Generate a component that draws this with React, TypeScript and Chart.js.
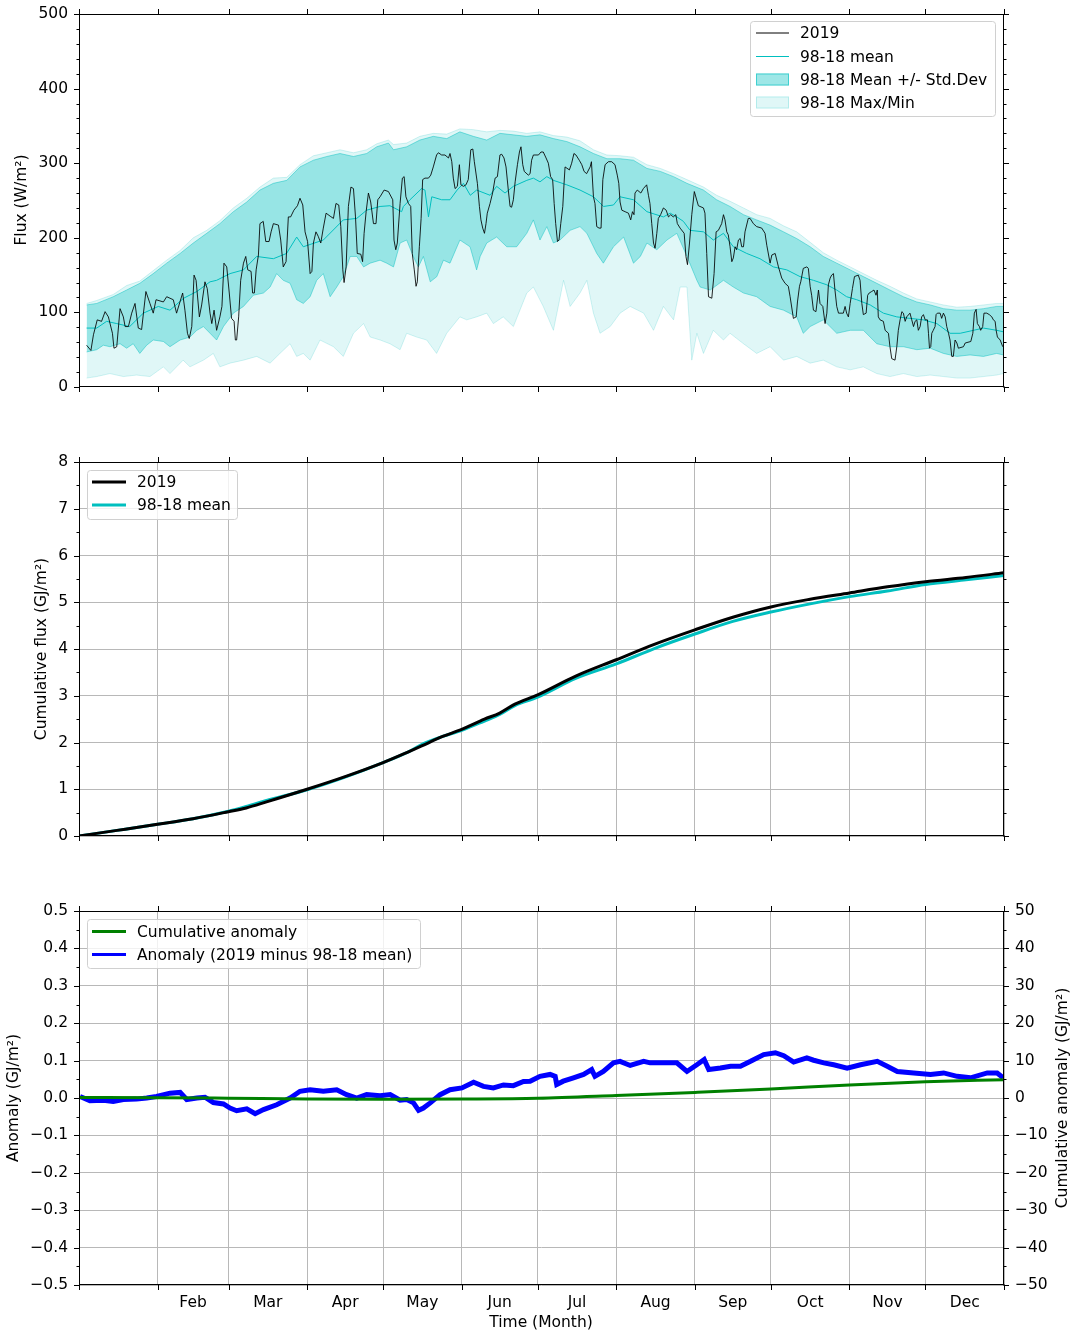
import React, { useEffect, useRef } from 'react';
import { Chart, registerables } from 'chart.js';

Chart.register(...registerables);
Chart.defaults.font.family = '"DejaVu Sans", sans-serif';
Chart.defaults.font.size = 15.5;
Chart.defaults.color = '#000';

const FONT = '15.5px "DejaVu Sans", sans-serif';
const CYAN = '#00BFBF';
const GRID = '#b8b8b8';

// ---------- axes ----------
const monthStarts = [0, 31, 59, 90, 120, 151, 181, 212, 243, 273, 304, 334, 365];
const monthMids = [45, 74.5, 105, 135.5, 166, 196.5, 227.5, 258, 288.5, 319, 349.5];
const monthNames = ['Feb', 'Mar', 'Apr', 'May', 'Jun', 'Jul', 'Aug', 'Sep', 'Oct', 'Nov', 'Dec'];
const fluxTicks = [0, 100, 200, 300, 400, 500];
const cumTicks = [0, 1, 2, 3, 4, 5, 6, 7, 8];
const anomTicks = [-0.5, -0.4, -0.3, -0.2, -0.1, 0, 0.1, 0.2, 0.3, 0.4, 0.5];
const cumAnomTicks = [-50, -40, -30, -20, -10, 0, 10, 20, 30, 40, 50];

// ---------- panel 1: daily flux (W/m2) ----------
const days2019 = [
  3.0,4.7,5.7,7.2,8.9,10.3,11.6,13.2,13.8,14.9,16.2,17.5,18.2,19.5,20.8,22.1,23.4,24.7,26.4,28.0,
  29.3,30.4,33.3,34.6,37.2,38.5,40.9,41.8,42.8,43.5,44.5,45.4,46.2,47.5,48.4,49.7,50.6,51.7,52.4,53.3,
  54.3,55.6,56.4,57.2,58.3,59.3,60.2,61.2,61.7,62.2,63.0,63.8,64.9,65.8,66.6,67.9,68.5,69.2,69.9,70.8,
  71.4,72.7,73.7,75.0,75.8,76.7,78.7,79.6,80.6,81.7,82.6,83.5,84.8,86.2,87.2,88.3,89.2,90.2,91.2,91.9,
  92.5,93.5,94.4,95.4,96.4,97.5,99.1,100.4,101.4,102.5,103.3,104.1,104.6,105.4,106.3,107.3,108.3,109.1,109.8,111.2,
  111.9,112.5,113.3,114.2,115.1,116.2,117.2,117.9,118.8,120.4,122.1,
  123.8,124.3,125.0,125.6,126.7,127.6,128.3,129.0,130.0,130.9,131.5,132.3,133.0,133.5,134.3,135.0,135.6,136.5,137.9,138.8,
  139.8,141.1,141.8,143.1,144.4,145.8,146.4,147.1,147.7,148.4,149.3,150.1,150.7,151.7,152.7,153.6,154.6,155.4,156.0,157.2,
  158.0,158.6,159.3,160.0,160.6,161.1,162.2,163.2,164.2,165.1,166.1,166.8,167.7,168.5,169.4,170.1,170.7,171.4,172.1,173.0,
  173.8,174.4,175.1,175.7,177.3,178.0,178.6,179.3,181.3,182.3,183.2,184.3,185.2,186.1,186.9,187.5,188.1,188.8,189.4,190.1,
  190.9,191.4,191.8,193.5,194.4,195.3,196.1,197.4,198.4,199.3,200.3,201.7,202.2,203.0,203.6,204.3,205.2,206.0,206.7,207.6,
  208.9,210.2,211.5,212.4,213.0,213.5,214.2,215.5,216.8,217.7,218.4,219.0,219.4,220.3,221.7,222.7,224.0,224.7,225.3,226.0,
  226.7,227.3,228.0,228.6,229.5,230.6,231.7,232.6,233.5,234.5,235.5,236.1,237.2,238.8,239.5,240.1,240.9,241.8,242.8,
  244.4,246.4,247.0,247.7,248.4,249.7,250.6,251.4,252.3,253.6,254.3,254.9,255.6,256.2,256.9,257.6,258.2,258.9,259.5,260.2,
  260.9,261.5,262.2,262.8,264.1,264.8,266.1,267.4,269.4,270.7,271.4,272.7,273.4,274.7,276.0,277.3,278.6,279.9,280.6,281.9,
  283.0,283.5,284.3,284.8,285.8,287.2,287.8,288.5,289.1,289.8,290.8,291.8,292.4,293.5,294.4,295.1,295.7,296.4,297.0,297.7,
  298.3,299.0,299.7,301.6,302.3,302.9,303.6,304.3,305.2,306.0,307.5,308.2,308.9,309.5,310.6,311.2,311.8,312.8,313.7,314.5,
  315.0,315.4,316.1,317.4,318.1,319.4,320.0,320.7,322.0,322.7,323.3,324.0,324.7,325.3,326.0,326.6,327.9,328.6,329.3,329.9,
  330.6,331.2,331.9,332.5,333.2,333.9,334.8,335.2,335.6,336.1,336.5,337.1,337.8,338.2,338.7,339.8,340.4,341.1,341.8,342.4,
  343.1,343.7,344.4,345.0,345.7,346.4,347.0,349.0,349.7,351.9,352.7,353.3,354.0,354.5,355.3,355.8,356.6,357.1,358.2,359.2,
  360.2,360.8,361.5,361.9,362.4,363.5,364.5,
];
const flux2019 = [
  56,49,70,90,88,101,94,72,52,54,105,94,81,81,99,112,79,77,128,112,
  99,117,114,121,117,99,126,103,72,65,81,150,143,94,110,141,132,99,85,103,
  76,94,108,166,161,126,92,88,63,63,94,143,166,175,157,155,126,126,157,177,
  219,222,195,195,208,219,217,197,161,168,228,228,237,243,253,244,208,195,152,155,
  193,208,202,193,213,233,229,226,246,244,215,157,140,161,242,268,266,228,179,178,
  168,206,235,260,248,219,219,251,255,264,262,
  251,197,184,193,246,280,282,255,246,242,179,157,135,141,188,226,278,280,280,284,
  295,311,314,311,311,307,313,302,280,266,269,298,271,269,271,278,318,319,302,273,
  242,224,213,206,219,233,246,260,280,282,311,312,307,295,264,242,241,251,275,298,
  315,322,298,289,284,286,304,311,311,315,315,307,300,282,278,246,219,195,197,219,
  242,273,295,291,300,313,311,304,298,289,286,295,302,255,246,215,213,213,278,298,
  302,302,298,284,273,248,237,235,233,224,235,231,260,264,260,266,271,257,246,219,
  193,186,206,226,231,240,237,228,231,228,231,219,213,206,175,164,193,231,262,
  243,240,233,179,121,119,152,208,210,219,231,224,208,204,188,168,173,188,184,197,
  199,188,188,208,226,226,219,215,213,206,190,166,177,179,161,146,139,135,121,92,
  94,114,135,141,159,161,159,135,123,103,101,130,112,108,85,99,137,146,150,152,
  130,108,99,99,108,99,94,112,132,148,150,143,112,97,99,123,126,128,130,123,
  130,94,90,88,76,72,54,38,36,54,76,90,101,99,88,94,99,90,81,88,
  90,76,81,94,97,90,90,72,52,54,72,76,81,97,99,99,92,99,94,81,
  72,63,41,41,63,59,52,54,59,61,72,99,104,85,81,76,81,99,99,97,
  94,90,88,76,67,63,54,
];

const meanDays = [3,7,10.9,14.9,20,25.4,31.3,35.9,41.3,46.5,51.7,54.3,59.6,64.9,70.1,76.7,81.9,85.9,88.5,96.4,
  104.3,109.6,113.5,118.8,122.7,127.3,128.0,130.6,135.2,136.5,137.9,139.2,143.1,146.4,149.2,151.7,154.4,156.9,162.2,164.8,
  168.1,171.4,176.7,179.3,181.9,184.6,187.2,192.5,197.7,203.0,207.0,210.9,213.5,218.8,224.1,230.6,233.3,235.9,238.5,241.1,
  246.4,250.3,254.3,258.2,263.5,268.7,274.0,279.3,284.5,289.8,295.1,299.0,302.9,306.9,312.2,317.4,322.7,327.9,333.2,338.5,
  343.7,347.7,353.0,356.9,362.1,364.7];
const meanFlux = [79,79,88,85,81,99,108,103,119,128,141,143,152,157,175,172,179,201,188,197,
  224,226,237,242,243,235,242,251,266,264,228,255,251,251,264,273,257,264,257,269,
  260,269,277,280,275,282,277,271,264,255,242,244,255,251,235,228,233,228,222,210,
  208,197,206,188,179,172,161,157,148,143,137,130,121,117,110,99,94,92,90,85,
  72,72,76,79,76,74];

const stdUpDays = [3,7,13.5,18.8,24,29.3,34.6,39.9,45.1,50.4,55.6,60.9,66.2,71.4,76.7,82,87.2,92.5,97.8,103,108.3,113.5,117.5,122.1,
  124.1,129.3,134.5,139.8,145.1,150.3,155.6,160.9,166.1,171.4,176.7,181.9,187.2,192.5,197.7,203,208.3,213.5,218.8,224.1,229.4,234.6,239.9,
  246.4,251.6,256.9,262.2,267.4,272.7,278,283.2,288.5,293.7,299,304.3,309.5,314.8,320,325.3,330.6,335.9,341.1,346.4,351.6,356.9,362.1,364.7];
const stdUpFlux = [110,112,121,130,139,152,166,179,193,206,219,235,248,264,273,277,295,304,309,313,309,313,322,327,
  318,322,331,336,333,342,336,331,340,338,336,338,333,329,322,313,306,306,304,293,289,282,273,
  264,251,242,231,224,217,208,199,188,175,166,157,148,139,130,121,114,110,105,103,103,105,108,108];
const maxFlux = [112,116,124,136,142,156,170,183,200,210,223,240,253,268,280,281,298,310,314,318,314,318,326,331,
  325,327,336,340,339,346,345,342,344,343,340,342,337,335,330,318,311,310,308,298,293,286,278,
  268,257,249,240,231,226,216,208,194,180,170,161,152,143,135,126,118,114,110,107,108,110,112,112];

const stdLowDays = [3,7,9.6,12.2,16.2,18.8,21.4,24,26.7,29.3,33.3,35.9,39.9,43.8,46.5,49.1,51.7,54.3,57,60.9,
  64.9,68.8,72.8,75.4,78,80.6,83.3,85.9,88.5,91.2,93.8,96.4,99.1,101.7,104.3,107,109.6,112.3,114.9,118.8,
  121.4,124.1,126.7,129.3,131.9,133.9,135.9,138.6,141.2,143.8,146.4,150.3,154.3,156.9,158.3,160.9,164.8,168.8,172.7,176.7,
  179.3,181.9,184.6,187.2,189.8,193.8,197.7,200.4,204.3,206.9,210.9,214.9,218.8,221.5,224.1,228,232,235.9,239.9,243.8,
  245.1,249.1,254.3,258.2,262.2,267.4,272.7,278,283.2,285.8,288.5,293.7,299,304.3,309.5,314.8,320,325.3,330.6,335.9,
  341.1,346.4,351.6,356.9,362.1,364.7];
const stdLowFlux = [47,50,56,54,58,52,58,45,56,63,61,54,63,67,76,81,72,63,81,99,
  108,123,126,134,152,143,139,117,112,121,143,152,121,134,148,175,175,161,166,170,
  166,161,193,197,175,161,175,141,148,170,166,197,188,157,175,193,201,188,188,206,
  224,197,215,193,197,210,215,206,179,166,188,201,166,175,193,184,197,206,175,143,
  134,130,143,134,126,121,108,103,94,72,81,90,72,76,76,58,54,54,50,52,
  45,41,43,41,45,43];

const minDays = [3,7,12.2,17.5,22.7,28,33.3,35.9,41.1,43.8,49.1,53,55.6,59.6,64.9,70.1,75.4,79.3,83.3,85.9,
  88.5,91.2,95.1,100.4,104.3,108.3,112.3,114.9,118.8,
  122.7,126.7,129.3,133.2,137.2,141.1,145.1,150.3,153,156.9,160.9,163.5,167.4,171.4,176.7,179.3,183.2,187.2,191.2,193.8,
  197.7,200.4,203,205.6,209.6,213.5,217.5,222.8,226.7,230.6,234.6,237.2,239.9,241.8,243.8,
  246.4,250.3,254.3,256.9,262.2,267.4,272.7,278,283.2,288.5,293.7,299,304.3,309.5,314.8,320,325.3,330.6,335.9,341.1,
  346.4,351.6,356.9,362.1,364.7];
const minFlux = [12,14,18,14,16,14,27,18,36,27,36,45,27,32,36,41,32,45,58,41,
  45,36,63,54,41,72,85,67,63,
  58,50,72,67,63,45,72,94,90,94,99,85,94,81,126,134,108,76,143,108,
  126,143,99,72,81,99,108,99,76,108,90,134,134,36,72,
  45,76,63,72,58,45,54,36,41,32,36,27,23,27,18,14,18,14,16,14,
  12,12,14,16,18];

// ---------- panel 2: cumulative flux (GJ/m2) ----------
const cumDays = [0,15,31,45,59,66,74,90,105,120,130,135,143,151,160,166,172,181,196,212,227,243,258,273,288,304,319,334,350,365];
const cum2019 = [0,0.12,0.25,0.37,0.52,0.60,0.73,1.0,1.27,1.57,1.80,1.92,2.12,2.28,2.5,2.63,2.82,3.02,3.42,3.77,4.1,4.41,4.68,4.9,5.06,5.2,5.33,5.44,5.53,5.63];
const cumMean = [0,0.12,0.25,0.37,0.53,0.63,0.76,0.99,1.26,1.57,1.80,1.95,2.12,2.26,2.46,2.60,2.79,2.97,3.37,3.68,4.01,4.32,4.59,4.79,4.96,5.12,5.24,5.38,5.48,5.57];

// ---------- panel 3: anomaly ----------
const anomDays = [0.4,4.3,9.6,13.5,17.5,22.7,26.7,30.6,35.9,39.9,42.5,46.5,49.7,53,57,59.6,62.2,66.2,69.5,72.8,
  78,83.3,87.2,91.2,96.4,101.7,105.6,109.6,113.5,118.8,122.8,126.7,129.3,132,134,135.9,138.6,142.5,146.4,151.1,
  155.7,159.6,163.5,167.5,171.4,175.4,178,181.9,185.9,187.9,188.5,191.1,195.1,199.1,202.3,203.6,206.9,210.9,213.5,217.5,
  222.8,225.4,230.6,235.9,239.9,243.8,246.7,248.5,253.1,257.1,261,265,270.2,274.8,278.1,282,287.2,289.9,293.9,297.8,
  303.1,308.4,315,318.9,322.9,329.4,336,341.2,346.5,351.8,358.4,362.3,364.7];
const anomVals = [0.004,-0.007,-0.006,-0.009,-0.004,-0.003,0,0.004,0.013,0.015,-0.004,0,0.002,-0.012,-0.016,-0.027,-0.034,-0.029,-0.042,-0.031,
  -0.018,0,0.018,0.022,0.018,0.022,0.009,0,0.009,0.006,0.009,-0.006,-0.004,-0.013,-0.033,-0.027,-0.013,0.009,0.022,0.027,
  0.042,0.031,0.027,0.035,0.033,0.044,0.045,0.058,0.063,0.058,0.036,0.045,0.054,0.063,0.076,0.058,0.071,0.094,0.098,0.087,
  0.098,0.094,0.094,0.094,0.071,0.089,0.103,0.076,0.080,0.085,0.085,0.098,0.116,0.121,0.113,0.096,0.107,0.101,0.094,0.089,
  0.080,0.089,0.098,0.085,0.071,0.067,0.063,0.067,0.058,0.054,0.067,0.067,0.054];
const cumAnomDays = [0,31,59,90,120,151,181,212,243,273,304,334,365];
const cumAnomVals = [0.15,0.1,-0.05,-0.25,-0.35,-0.3,-0.1,0.65,1.5,2.4,3.5,4.35,4.9];

// ---------- helpers ----------
const pts = (xs: number[], ys: number[]) =>
  xs.slice(0, Math.min(xs.length, ys.length)).map((x, i) => ({ x, y: ys[i] }));
const minorBetween = (majors: number[], n: number) => {
  const out: number[] = [];
  for (let i = 0; i < majors.length - 1; i++) {
    const a = majors[i], b = majors[i + 1];
    for (let k = 1; k < n; k++) out.push(a + ((b - a) * k) / n);
  }
  return out;
};
const signed = (s: string) => s.replace('-', '\u2212');

type LegendItem = { label: string; y: number; kind: 'line' | 'patch'; color: string; lw?: number; edge?: string };
type Frame = {
  yMajor: number[]; yMinor: number[]; mirror: boolean;
  y2Major?: number[]; y2Minor?: number[];
  titles: { text: string; x: number; y: number; rot: boolean }[];
  legend: { x: number; y: number; w: number; h: number; hx1: number; hx2: number; tx: number; items: LegendItem[] };
};

const makeFrame = (f: Frame) => ({
  id: 'mplFrame',
  afterDraw(chart: any) {
    const { ctx, chartArea: a, scales } = chart;
    const sx = scales.x, sy = scales.y, sy2 = scales.y2;
    const snap = (p: number) => Math.round(p) + 0.5;
    const seg = (x1: number, y1: number, x2: number, y2: number) => {
      ctx.beginPath(); ctx.moveTo(x1, y1); ctx.lineTo(x2, y2); ctx.stroke();
    };
    ctx.save();
    ctx.strokeStyle = '#000';
    ctx.lineWidth = 1;
    const L = snap(a.left), R = snap(a.right - 1), T = snap(a.top), B = snap(a.bottom - 1);
    const MAJ = 5.5, MIN = 3;
    for (const v of monthStarts) {
      const p = snap(sx.getPixelForValue(v));
      seg(p, B, p, B + MAJ); seg(p, T, p, T - MAJ);
    }
    for (const v of f.yMajor) {
      const p = snap(sy.getPixelForValue(v));
      seg(L, p, L - MAJ, p); if (f.mirror) seg(R, p, R + MAJ, p);
    }
    for (const v of f.yMinor) {
      const p = snap(sy.getPixelForValue(v));
      seg(L, p, L - MIN, p); if (f.mirror) seg(R, p, R + MIN, p);
    }
    if (sy2 && f.y2Major && f.y2Minor) {
      for (const v of f.y2Major) { const p = snap(sy2.getPixelForValue(v)); seg(R, p, R + MAJ, p); }
      for (const v of f.y2Minor) { const p = snap(sy2.getPixelForValue(v)); seg(R, p, R + MIN, p); }
    }
    ctx.strokeRect(L, T, R - L, B - T);

    // axis titles
    ctx.fillStyle = '#000';
    ctx.font = FONT;
    ctx.textAlign = 'center';
    ctx.textBaseline = 'middle';
    for (const t of f.titles) {
      ctx.save(); ctx.translate(t.x, t.y); if (t.rot) ctx.rotate(-Math.PI / 2);
      ctx.fillText(t.text, 0, 0); ctx.restore();
    }

    // legend
    const lg = f.legend;
    const r = 3;
    ctx.beginPath();
    ctx.moveTo(lg.x + r, lg.y);
    ctx.lineTo(lg.x + lg.w - r, lg.y); ctx.quadraticCurveTo(lg.x + lg.w, lg.y, lg.x + lg.w, lg.y + r);
    ctx.lineTo(lg.x + lg.w, lg.y + lg.h - r); ctx.quadraticCurveTo(lg.x + lg.w, lg.y + lg.h, lg.x + lg.w - r, lg.y + lg.h);
    ctx.lineTo(lg.x + r, lg.y + lg.h); ctx.quadraticCurveTo(lg.x, lg.y + lg.h, lg.x, lg.y + lg.h - r);
    ctx.lineTo(lg.x, lg.y + r); ctx.quadraticCurveTo(lg.x, lg.y, lg.x + r, lg.y);
    ctx.closePath();
    ctx.fillStyle = 'rgba(255,255,255,0.8)'; ctx.fill();
    ctx.strokeStyle = '#d0d0d0'; ctx.lineWidth = 1; ctx.stroke();
    for (const it of lg.items) {
      if (it.kind === 'line') {
        ctx.strokeStyle = it.color; ctx.lineWidth = it.lw || 1;
        seg(lg.hx1, it.y, lg.hx2, it.y);
      } else {
        ctx.fillStyle = it.color;
        ctx.fillRect(lg.hx1, it.y - 6, lg.hx2 - lg.hx1, 12);
        ctx.strokeStyle = it.edge || it.color; ctx.lineWidth = 1;
        ctx.strokeRect(lg.hx1 + 0.5, it.y - 5.5, lg.hx2 - lg.hx1 - 1, 11);
      }
      ctx.fillStyle = '#000';
      ctx.textAlign = 'left';
      ctx.fillText(it.label, lg.tx, it.y + 1);
    }
    ctx.restore();
  },
});

const base = { responsive: false, animation: false, events: [] as any[] };
const noPlug = { legend: { display: false }, tooltip: { enabled: false } };
const setTicks = (vals: number[]) => (s: any) => { s.ticks = vals.map((v) => ({ value: v })); };
const line = (data: any, color: string, width: number, extra: any = {}) => ({
  data, borderColor: color, borderWidth: width, pointRadius: 0, fill: false, tension: 0, ...extra,
});

// canvas 1 spans page y -20..420; plot area page y 14..387
const fluxConfig = (): any => ({
  type: 'line',
  data: {
    datasets: [
      line(pts(days2019, flux2019), 'rgba(0,0,0,0.85)', 1),
      line(pts(meanDays, meanFlux), CYAN, 1),
      line(pts(stdUpDays, stdUpFlux), 'rgba(0,191,191,0.45)', 1, { fill: '+1', backgroundColor: 'rgba(0,191,191,0.33)' }),
      line(pts(stdLowDays, stdLowFlux), 'rgba(0,191,191,0.45)', 1),
      line(pts(stdUpDays, maxFlux), 'rgba(0,191,191,0.18)', 1, { fill: '+1', backgroundColor: 'rgba(0,191,191,0.12)' }),
      line(pts(minDays, minFlux), 'rgba(0,191,191,0.18)', 1),
    ],
  },
  options: {
    ...base,
    layout: { padding: { top: 34, right: 73, bottom: 33, left: 0 } },
    plugins: noPlug,
    scales: {
      x: { type: 'linear', min: 0, max: 365, display: false },
      y: {
        type: 'linear', min: 0, max: 500,
        afterBuildTicks: setTicks(fluxTicks),
        afterFit: (s: any) => { s.width = 79; },
        grid: { display: false, drawTicks: false },
        border: { display: false },
        ticks: { padding: 11, callback: (v: number) => String(v) },
      },
    },
  },
  plugins: [makeFrame({
    yMajor: fluxTicks, yMinor: minorBetween(fluxTicks, 5), mirror: true,
    titles: [{ text: 'Flux (W/m\u00B2)', x: 22, y: 220, rot: true }],
    legend: {
      x: 750.5, y: 41.5, w: 245, h: 95, hx1: 756, hx2: 789, tx: 800,
      items: [
        { label: '2019', y: 53, kind: 'line', color: '#000', lw: 1 },
        { label: '98-18 mean', y: 76.5, kind: 'line', color: CYAN, lw: 1 },
        { label: '98-18 Mean +/- Std.Dev', y: 99.5, kind: 'patch', color: 'rgba(0,191,191,0.38)', edge: 'rgba(0,191,191,0.6)' },
        { label: '98-18 Max/Min', y: 122.5, kind: 'patch', color: 'rgba(0,191,191,0.12)', edge: 'rgba(0,191,191,0.2)' },
      ],
    },
  })],
});

const xGridScale = (height: number, labels: boolean) => ({
  type: 'linear', min: 0, max: 365,
  afterBuildTicks: setTicks(labels ? [...monthStarts, ...monthMids].sort((a, b) => a - b) : monthStarts),
  afterFit: (s: any) => { s.height = height; },
  grid: {
    drawTicks: false, lineWidth: 1,
    color: (c: any) => (c.tick && monthMids.includes(c.tick.value) ? 'rgba(0,0,0,0)' : GRID),
  },
  border: { display: false },
  ticks: {
    display: labels, autoSkip: false, maxRotation: 0, minRotation: 0, padding: 9,
    callback: (v: number) => { const i = monthMids.indexOf(v); return i >= 0 ? monthNames[i] : ''; },
  },
});

const cumConfig = (): any => ({
  type: 'line',
  data: {
    datasets: [
      line(pts(cumDays, cum2019), '#000', 3, { cubicInterpolationMode: 'monotone' }),
      line(pts(cumDays, cumMean), CYAN, 3, { cubicInterpolationMode: 'monotone' }),
    ],
  },
  options: {
    ...base,
    layout: { padding: { top: 42, right: 73, bottom: 0, left: 0 } },
    plugins: noPlug,
    scales: {
      x: xGridScale(24, false),
      y: {
        type: 'linear', min: 0, max: 8,
        afterBuildTicks: setTicks(cumTicks),
        afterFit: (s: any) => { s.width = 79; },
        grid: { color: GRID, lineWidth: 1, drawTicks: false },
        border: { display: false },
        ticks: { padding: 11, callback: (v: number) => String(v) },
      },
    },
  },
  plugins: [makeFrame({
    yMajor: cumTicks, yMinor: minorBetween(cumTicks, 2), mirror: true,
    titles: [{ text: 'Cumulative flux (GJ/m\u00B2)', x: 42, y: 229, rot: true }],
    legend: {
      x: 87.5, y: 50.5, w: 150, h: 49, hx1: 92, hx2: 126, tx: 137,
      items: [
        { label: '2019', y: 62, kind: 'line', color: '#000', lw: 3 },
        { label: '98-18 mean', y: 85, kind: 'line', color: CYAN, lw: 3 },
      ],
    },
  })],
});

const anomConfig = (): any => ({
  type: 'line',
  data: {
    datasets: [
      line(pts(cumAnomDays, cumAnomVals), '#008000', 3, { yAxisID: 'y2', cubicInterpolationMode: 'monotone' }),
      line(pts(anomDays, anomVals), '#0000FF', 5, { yAxisID: 'y' }),
    ],
  },
  options: {
    ...base,
    layout: { padding: { top: 51, right: 0, bottom: 0, left: 0 } },
    plugins: noPlug,
    scales: {
      x: xGridScale(51, true),
      y: {
        type: 'linear', position: 'left', min: -0.5, max: 0.5,
        afterBuildTicks: setTicks(anomTicks),
        afterFit: (s: any) => { s.width = 79; },
        grid: { color: GRID, lineWidth: 1, drawTicks: false },
        border: { display: false },
        ticks: { padding: 11, callback: (v: number) => signed(v.toFixed(1)) },
      },
      y2: {
        type: 'linear', position: 'right', min: -50, max: 50,
        afterBuildTicks: setTicks(cumAnomTicks),
        afterFit: (s: any) => { s.width = 73; },
        grid: { display: false, drawTicks: false },
        border: { display: false },
        ticks: { padding: 11, callback: (v: number) => signed(String(v)) },
      },
    },
  },
  plugins: [makeFrame({
    yMajor: anomTicks, yMinor: minorBetween(anomTicks, 2), mirror: false,
    y2Major: cumAnomTicks, y2Minor: minorBetween(cumAnomTicks, 2),
    titles: [
      { text: 'Anomaly (GJ/m\u00B2)', x: 14, y: 238, rot: true },
      { text: 'Cumulative anomaly (GJ/m\u00B2)', x: 1063, y: 238, rot: true },
      { text: 'Time (Month)', x: 541, y: 463, rot: false },
    ],
    legend: {
      x: 87.5, y: 59.5, w: 333, h: 49, hx1: 92, hx2: 126, tx: 137,
      items: [
        { label: 'Cumulative anomaly', y: 71.5, kind: 'line', color: '#008000', lw: 3 },
        { label: 'Anomaly (2019 minus 98-18 mean)', y: 94.5, kind: 'line', color: '#0000FF', lw: 3 },
      ],
    },
  })],
});

function ChartCanvas({ top, height, make }: { top: number; height: number; make: () => any }) {
  const ref = useRef<HTMLCanvasElement | null>(null);
  useEffect(() => {
    if (!ref.current) return;
    const chart = new Chart(ref.current, make());
    return () => chart.destroy();
  }, []);
  return (
    <canvas
      ref={ref}
      width={1077}
      height={height}
      style={{ position: 'absolute', left: 0, top, width: 1077, height, display: 'block' }}
    />
  );
}

export default function App() {
  return (
    <div style={{ position: 'absolute', left: 0, top: 0, width: 1077, height: 1336, background: '#fff', overflow: 'hidden' }}>
      <ChartCanvas top={-20} height={440} make={fluxConfig} />
      <ChartCanvas top={420} height={440} make={cumConfig} />
      <ChartCanvas top={860} height={476} make={anomConfig} />
    </div>
  );
}
